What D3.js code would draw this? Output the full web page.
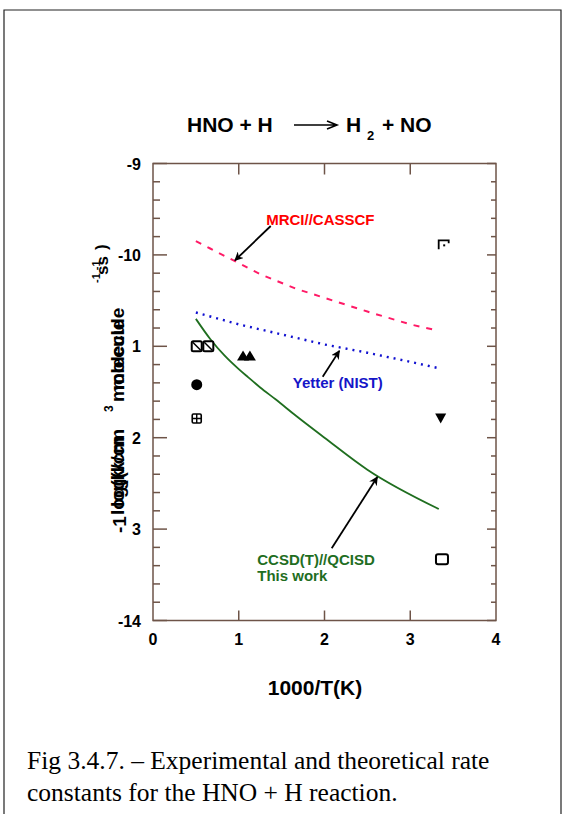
<!DOCTYPE html>
<html>
<head>
<meta charset="utf-8">
<script src="https://cdn.jsdelivr.net/npm/d3@7"></script>
<style>
  html, body { margin: 0; padding: 0; background: #fff; }
  svg { display: block; }
</style>
</head>
<body>
<svg id="chart" width="573" height="814"></svg>
<script>
// ---- data -------------------------------------------------------------
// 1000/T grid used for the computed rate-constant curves
const mrciX   = [0.5, 0.667, 0.833, 1.0, 1.25, 1.429, 1.667, 2.0, 2.5, 3.0, 3.333];
const mrciY   = [-9.85, -9.93, -10.01, -10.09, -10.21, -10.28, -10.37, -10.47, -10.62, -10.76, -10.83];

const yetterX = [0.5, 1.0, 1.5, 2.0, 2.5, 3.0, 3.333];
const yetterY = [-10.63, -10.76, -10.87, -10.98, -11.07, -11.17, -11.24];

const ccsdX   = [0.5, 0.667, 0.833, 1.0, 1.111, 1.25, 1.429, 1.667, 2.0, 2.5, 3.333];
const ccsdY   = [-10.70, -10.92, -11.10, -11.25, -11.34, -11.45, -11.58, -11.76, -12.00, -12.35, -12.78];

// experimental measurements
const expX      = [0.51, 0.645, 0.51, 0.51, 1.05, 1.13, 3.39, 3.355, 3.37];
const expY      = [-11.0, -11.0, -11.42, -11.79, -11.1, -11.1, -9.89, -11.79, -13.33];
const expSymbol = ["boxSlash", "boxSlash", "circle", "boxPlus", "triUp", "triUp", "boxDot", "triDown", "box"];

// axis ticks
const xTicks       = [0, 1, 2, 3, 4];
const yTicks       = [-9, -10, -11, -12, -13, -14];
const yTickLabels  = ["-9", "-10", "1", "2", "3", "-14"];

// curve annotations: label text, label anchor and arrow (tail -> head) in data units
const labels = [
  { lines: ["MRCI//CASSCF"], x: 1.32, y: -9.673, color: "#ff0000",
    tail: [1.373, -9.684], head: [0.956, -10.06] },
  { lines: ["Yetter (NIST)"], x: 1.63, y: -11.456, color: "#1515c8",
    tail: [1.979, -11.333], head: [2.173, -11.05] },
  { lines: ["CCSD(T)//QCISD", "This work"], x: 1.216, y: -13.393, color: "#1f6e1f",
    tail: [2.084, -13.21], head: [2.616, -12.43] }
];

const captionLines = [
  "Fig 3.4.7. \u2013 Experimental and theoretical rate",
  "constants for the HNO + H reaction."
];

// ---- layout -----------------------------------------------------------
const svg = d3.select("#chart");
const plot = { left: 153, right: 496, top: 163.5, bottom: 620.5 };
const axisColor = "#6e5448";
const boldFont = "'Liberation Sans', Arial, sans-serif";

const x = d3.scaleLinear().domain([0, 4]).range([plot.left, plot.right]);
const y = d3.scaleLinear().domain([-14, -9]).range([plot.bottom, plot.top]);

// page frame
svg.append("path")
  .attr("d", `M4,814 L4,10 L561,10 L561,814`)
  .attr("fill", "none").attr("stroke", "#222").attr("stroke-width", 1.2);

// ---- title ------------------------------------------------------------
const title = svg.append("g").attr("font-family", boldFont).attr("font-weight", "bold").attr("fill", "#000");
title.append("text").attr("x", 187).attr("y", 132).attr("font-size", 21).text("HNO + H");
title.append("path")
  .attr("d", "M294,125 L336,125 M327,121 L337,125 L327,129")
  .attr("fill", "none").attr("stroke", "#000").attr("stroke-width", 1.6);
title.append("text").attr("x", 346).attr("y", 132).attr("font-size", 21).text("H");
title.append("text").attr("x", 367).attr("y", 140).attr("font-size", 13).text("2");
title.append("text").attr("x", 382).attr("y", 132).attr("font-size", 21).text("+ NO");

// ---- axes -------------------------------------------------------------
const axes = svg.append("g").attr("stroke", axisColor).attr("stroke-width", 1.5).attr("fill", "none");
axes.append("rect")
  .attr("x", plot.left).attr("y", plot.top)
  .attr("width", plot.right - plot.left).attr("height", plot.bottom - plot.top);

const yMinor = d3.range(-14, -9 + 1e-9, 0.2).map(v => +v.toFixed(1));
yMinor.forEach(v => {
  const major = Math.abs(v - Math.round(v)) < 1e-6;
  axes.append("line")
    .attr("x1", plot.left).attr("x2", plot.left + (major ? 14 : 7))
    .attr("y1", y(v)).attr("y2", y(v));
  axes.append("line")
    .attr("x1", plot.right).attr("x2", plot.right - (major ? 9 : 5))
    .attr("y1", y(v)).attr("y2", y(v));
});
xTicks.slice(1, -1).forEach(v => {
  axes.append("line").attr("x1", x(v)).attr("x2", x(v))
    .attr("y1", plot.bottom).attr("y2", plot.bottom - 10);
  axes.append("line").attr("x1", x(v)).attr("x2", x(v))
    .attr("y1", plot.top).attr("y2", plot.top + 11);
});

const tickText = svg.append("g").attr("font-family", boldFont).attr("font-weight", "bold")
  .attr("font-size", 16).attr("fill", "#000");
xTicks.forEach(v => {
  tickText.append("text").attr("x", x(v)).attr("y", 645)
    .attr("text-anchor", "middle").text(d3.format("d")(v));
});
yTicks.forEach((v, i) => {
  tickText.append("text").attr("x", plot.left - 12).attr("y", y(v) + 6)
    .attr("text-anchor", "end").text(yTickLabels[i]);
});

// x axis title
svg.append("text").attr("x", 315).attr("y", 695).attr("text-anchor", "middle")
  .attr("font-family", boldFont).attr("font-weight", "bold").attr("font-size", 21)
  .text("1000/T(K)");

// y axis title (rotated, its pieces overprint one another)
const yTitle = svg.append("g").attr("transform", "rotate(-90)")
  .attr("font-family", boldFont).attr("font-weight", "bold").attr("fill", "#000");
function rotText(sx, sy, size, str) {
  yTitle.append("text").attr("x", -sy).attr("y", sx).attr("font-size", size).text(str);
}
rotText(126, 533, 19, "-1");
rotText(124, 515, 19, "log(k/cm");
rotText(124, 507, 19, "log(k/cm");
rotText(124, 402, 19, "molecule");
rotText(124, 390, 19, "molecule");
rotText(113, 412, 12, "3");
rotText(108, 275, 17, "ss");
rotText(100, 283, 11, "-1 -1");
rotText(107, 250, 17, ")");

// ---- curves -----------------------------------------------------------
const line = d3.line().x(d => x(d[0])).y(d => y(d[1]));
const zip = (a, b) => a.map((v, i) => [v, b[i]]);

const curves = svg.append("g").attr("fill", "none");
curves.append("path").datum(zip(mrciX, mrciY)).attr("d", line)
  .attr("stroke", "#ff1a66").attr("stroke-width", 2).attr("stroke-dasharray", "6,7");
curves.append("path").datum(zip(yetterX, yetterY)).attr("d", line)
  .attr("stroke", "#1010d0").attr("stroke-width", 2.4).attr("stroke-dasharray", "2,5");
curves.append("path").datum(zip(ccsdX, ccsdY))
  .attr("d", d3.line().curve(d3.curveMonotoneX).x(d => x(d[0])).y(d => y(d[1])))
  .attr("stroke", "#1f6e1f").attr("stroke-width", 1.8);

// ---- experimental points ----------------------------------------------
const pts = svg.append("g");
expX.forEach((vx, i) => {
  const cx = x(vx), cy = y(expY[i]);
  const g = pts.append("g").attr("transform", `translate(${cx},${cy})`);
  switch (expSymbol[i]) {
    case "boxSlash":
      g.append("rect").attr("x", -5).attr("y", -5).attr("width", 10).attr("height", 10).attr("rx", 1.5)
        .attr("fill", "#fff").attr("stroke", "#000").attr("stroke-width", 2);
      g.append("line").attr("x1", -4).attr("y1", -4).attr("x2", 4).attr("y2", 4)
        .attr("stroke", "#000").attr("stroke-width", 1.5);
      break;
    case "circle":
      g.append("circle").attr("r", 5.5).attr("fill", "#000");
      break;
    case "boxPlus":
      g.append("rect").attr("x", -4.5).attr("y", -4.5).attr("width", 9).attr("height", 9).attr("rx", 1.2)
        .attr("fill", "#fff").attr("stroke", "#000").attr("stroke-width", 1.6);
      g.append("path").attr("d", "M0,-4.5 L0,4.5 M-4.5,0 L4.5,0")
        .attr("stroke", "#000").attr("stroke-width", 1.4);
      break;
    case "triUp":
      g.append("path").attr("d", "M0,-5 L6,5 L-6,5 Z").attr("fill", "#000");
      break;
    case "triDown":
      g.append("path").attr("d", "M-5.5,-5 L5.5,-5 L0,5 Z").attr("fill", "#000");
      break;
    case "boxDot":
      g.append("path").attr("d", "M-5,4.5 L-5,-4.5 L5,-4.5 L5,-1.5")
        .attr("fill", "none").attr("stroke", "#000").attr("stroke-width", 1.8);
      g.append("rect").attr("x", -0.5).attr("y", -0.5).attr("width", 2).attr("height", 2).attr("fill", "#000");
      break;
    case "box":
      g.append("rect").attr("x", -6).attr("y", -5).attr("width", 12).attr("height", 10).attr("rx", 2)
        .attr("fill", "none").attr("stroke", "#000").attr("stroke-width", 2);
      break;
  }
});

// ---- annotations ------------------------------------------------------
svg.append("defs").append("marker")
  .attr("id", "head").attr("viewBox", "0 0 10 10").attr("refX", 9).attr("refY", 5)
  .attr("markerWidth", 9).attr("markerHeight", 9).attr("markerUnits", "userSpaceOnUse")
  .attr("orient", "auto")
  .append("path").attr("d", "M0,0 L10,5 L0,10 L3,5 Z").attr("fill", "#000");

const ann = svg.append("g");
labels.forEach(l => {
  ann.append("line")
    .attr("x1", x(l.tail[0])).attr("y1", y(l.tail[1]))
    .attr("x2", x(l.head[0])).attr("y2", y(l.head[1]))
    .attr("stroke", "#000").attr("stroke-width", 1.8).attr("marker-end", "url(#head)");
  const t = ann.append("text").attr("font-family", boldFont).attr("font-weight", "bold")
    .attr("font-size", 15).attr("fill", l.color);
  l.lines.forEach((s, k) => {
    t.append("tspan").attr("x", x(l.x)).attr("y", y(l.y) + k * 16).text(s);
  });
});

// ---- caption ----------------------------------------------------------
const cap = svg.append("text").attr("font-family", "'Liberation Serif', 'Times New Roman', serif")
  .attr("font-size", 25.5).attr("fill", "#000");
captionLines.forEach((s, k) => {
  cap.append("tspan").attr("x", 27).attr("y", 769 + k * 32).text(s);
});
</script>
</body>
</html>
